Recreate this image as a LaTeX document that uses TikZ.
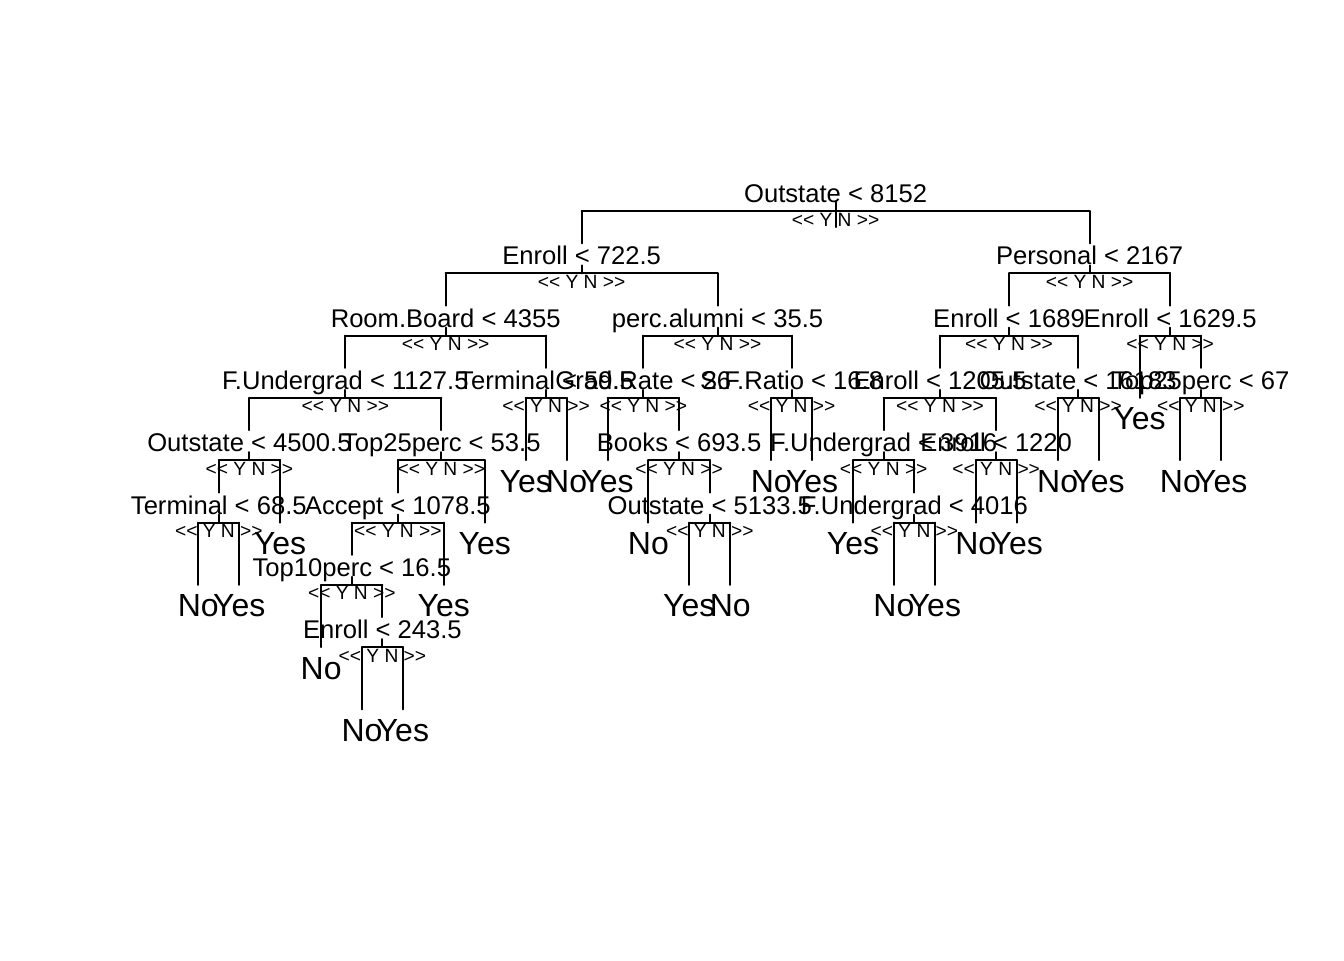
\documentclass[tikz,border=0pt]{standalone}
\usepackage{fontspec}
\setmainfont{Liberation Sans}
\usetikzlibrary{calc}
\tikzset{
  edge/.style={line width=0.75pt, line cap=round},
  splitlab/.style={anchor=base, inner sep=0pt, font=\fontsize{9.6}{11}\selectfont},
  ynlab/.style={anchor=base, inner sep=0pt, font=\fontsize{7.2}{9}\selectfont},
  leaflab/.style={anchor=base, inner sep=0pt, font=\fontsize{12}{14}\selectfont},
}
\newcommand\tSplit[3]{\draw[edge] (#2 |- #1) -- (#3 |- #1);}
\newcommand\tTick[1]{\draw[edge] ($(#1)+(0,-8)$) -- (#1);}
\newcommand\tToSplit[2]{\draw[edge] (#2 |- #1) -- ($(#2)+(0,-30)$);}
\newcommand\tToLeaf[2]{\draw[edge] (#2 |- #1) -- (#2);}
\newcommand\tSLabel[2]{\node[splitlab] (#1-t) at ($(#1)+(0,-8.5)$) {#2};
  \node[ynlab] (#1-yn) at ($(#1)+(0,15)$) {<{}< Y N >{}>};}
\newcommand\tLLabel[2]{\node[leaflab] (#1-t) at ($(#1)+(0,32)$) {#2};}
\begin{document}
\begin{tikzpicture}[x=0.375pt, y=-0.375pt]
\fill[white] (0,0) rectangle (1344,960);
\useasboundingbox (0,0) rectangle (1344,960);
% ---- tree node positions (bar / leaf points)
\coordinate (r) at (835.6,211);
\coordinate (a) at (581.6,273.3);
\coordinate (b) at (1089.6,273.3);
\coordinate (aa) at (445.7,335.6);
\coordinate (ab) at (717.5,335.6);
\coordinate (ba) at (1009.0,335.6);
\coordinate (bb) at (1170.2,335.6);
\coordinate (aaa) at (345.3,397.9);
\coordinate (aab) at (546.1,397.9);
\coordinate (aba) at (643.3,397.9);
\coordinate (abb) at (791.6,397.9);
\coordinate (baa) at (940.0,397.9);
\coordinate (bab) at (1078.1,397.9);
\coordinate (bba) at (1139.5,397.9);
\coordinate (bbb) at (1200.8,397.9);
\coordinate (aaaa) at (249.4,460.2);
\coordinate (aaab) at (441.3,460.2);
\coordinate (aaba) at (525.7,460.2);
\coordinate (aabb) at (566.6,460.2);
\coordinate (abaa) at (607.5,460.2);
\coordinate (abab) at (679.1,460.2);
\coordinate (abba) at (771.2,460.2);
\coordinate (abbb) at (812.1,460.2);
\coordinate (baaa) at (883.7,460.2);
\coordinate (baab) at (996.2,460.2);
\coordinate (baba) at (1057.6,460.2);
\coordinate (babb) at (1098.5,460.2);
\coordinate (bbba) at (1180.4,460.2);
\coordinate (bbbb) at (1221.3,460.2);
\coordinate (aaaaa) at (218.8,522.5);
\coordinate (aaaab) at (280.1,522.5);
\coordinate (aaaba) at (397.8,522.5);
\coordinate (aaabb) at (484.7,522.5);
\coordinate (ababa) at (648.4,522.5);
\coordinate (ababb) at (709.8,522.5);
\coordinate (baaaa) at (853.0,522.5);
\coordinate (baaab) at (914.4,522.5);
\coordinate (baaba) at (975.8,522.5);
\coordinate (baabb) at (1016.7,522.5);
\coordinate (aaaaaa) at (198.3,584.8);
\coordinate (aaaaab) at (239.2,584.8);
\coordinate (aaabaa) at (351.8,584.8);
\coordinate (aaabab) at (443.8,584.8);
\coordinate (ababba) at (689.3,584.8);
\coordinate (ababbb) at (730.3,584.8);
\coordinate (baaaba) at (893.9,584.8);
\coordinate (baaabb) at (934.9,584.8);
\coordinate (aaabaaa) at (321.1,647.1);
\coordinate (aaabaab) at (382.4,647.1);
\coordinate (aaabaaba) at (362.0,709.4);
\coordinate (aaabaabb) at (402.9,709.4);
% ---- branches
\draw[edge] ($(r)+(0,-10)$) -- ($(r)+(0,16)$);
\tSplit{r}{a}{b} \tToSplit{r}{a} \tToSplit{r}{b}
\tSplit{a}{aa}{ab} \tTick{a} \tToSplit{a}{aa} \tToSplit{a}{ab}
\tSplit{b}{ba}{bb} \tTick{b} \tToSplit{b}{ba} \tToSplit{b}{bb}
\tSplit{aa}{aaa}{aab} \tTick{aa} \tToSplit{aa}{aaa} \tToSplit{aa}{aab}
\tSplit{ab}{aba}{abb} \tTick{ab} \tToSplit{ab}{aba} \tToSplit{ab}{abb}
\tSplit{ba}{baa}{bab} \tTick{ba} \tToSplit{ba}{baa} \tToSplit{ba}{bab}
\tSplit{bb}{bba}{bbb} \tTick{bb} \tToLeaf{bb}{bba} \tToSplit{bb}{bbb}
\tSplit{aaa}{aaaa}{aaab} \tTick{aaa} \tToSplit{aaa}{aaaa} \tToSplit{aaa}{aaab}
\tSplit{aab}{aaba}{aabb} \tTick{aab} \tToLeaf{aab}{aaba} \tToLeaf{aab}{aabb}
\tSplit{aba}{abaa}{abab} \tTick{aba} \tToLeaf{aba}{abaa} \tToSplit{aba}{abab}
\tSplit{abb}{abba}{abbb} \tTick{abb} \tToLeaf{abb}{abba} \tToLeaf{abb}{abbb}
\tSplit{baa}{baaa}{baab} \tTick{baa} \tToSplit{baa}{baaa} \tToSplit{baa}{baab}
\tSplit{bab}{baba}{babb} \tTick{bab} \tToLeaf{bab}{baba} \tToLeaf{bab}{babb}
\tSplit{bbb}{bbba}{bbbb} \tTick{bbb} \tToLeaf{bbb}{bbba} \tToLeaf{bbb}{bbbb}
\tSplit{aaaa}{aaaaa}{aaaab} \tTick{aaaa} \tToSplit{aaaa}{aaaaa} \tToLeaf{aaaa}{aaaab}
\tSplit{aaab}{aaaba}{aaabb} \tTick{aaab} \tToSplit{aaab}{aaaba} \tToLeaf{aaab}{aaabb}
\tSplit{abab}{ababa}{ababb} \tTick{abab} \tToLeaf{abab}{ababa} \tToSplit{abab}{ababb}
\tSplit{baaa}{baaaa}{baaab} \tTick{baaa} \tToLeaf{baaa}{baaaa} \tToSplit{baaa}{baaab}
\tSplit{baab}{baaba}{baabb} \tTick{baab} \tToLeaf{baab}{baaba} \tToLeaf{baab}{baabb}
\tSplit{aaaaa}{aaaaaa}{aaaaab} \tTick{aaaaa} \tToLeaf{aaaaa}{aaaaaa} \tToLeaf{aaaaa}{aaaaab}
\tSplit{aaaba}{aaabaa}{aaabab} \tTick{aaaba} \tToSplit{aaaba}{aaabaa} \tToLeaf{aaaba}{aaabab}
\tSplit{ababb}{ababba}{ababbb} \tTick{ababb} \tToLeaf{ababb}{ababba} \tToLeaf{ababb}{ababbb}
\tSplit{baaab}{baaaba}{baaabb} \tTick{baaab} \tToLeaf{baaab}{baaaba} \tToLeaf{baaab}{baaabb}
\tSplit{aaabaa}{aaabaaa}{aaabaab} \tTick{aaabaa} \tToLeaf{aaabaa}{aaabaaa} \tToSplit{aaabaa}{aaabaab}
\tSplit{aaabaab}{aaabaaba}{aaabaabb} \tTick{aaabaab} \tToLeaf{aaabaab}{aaabaaba} \tToLeaf{aaabaab}{aaabaabb}
% ---- split labels
\tSLabel{r}{Outstate < 8152}
\tSLabel{a}{Enroll < 722.5}
\tSLabel{b}{Personal < 2167}
\tSLabel{aa}{Room.Board < 4355}
\tSLabel{ab}{perc.alumni < 35.5}
\tSLabel{ba}{Enroll < 1689}
\tSLabel{bb}{Enroll < 1629.5}
\tSLabel{aaa}{F.Undergrad < 1127.5}
\tSLabel{aab}{Terminal < 59.5}
\tSLabel{aba}{Grad.Rate < 26}
\tSLabel{abb}{S.F.Ratio < 16.8}
\tSLabel{baa}{Enroll < 1205.5}
\tSLabel{bab}{Outstate < 16183}
\tSLabel{bbb}{Top25perc < 67}
\tSLabel{aaaa}{Outstate < 4500.5}
\tSLabel{aaab}{Top25perc < 53.5}
\tSLabel{abab}{Books < 693.5}
\tSLabel{baaa}{F.Undergrad < 3916}
\tSLabel{baab}{Enroll < 1220}
\tSLabel{aaaaa}{Terminal < 68.5}
\tSLabel{aaaba}{Accept < 1078.5}
\tSLabel{ababb}{Outstate < 5133.5}
\tSLabel{baaab}{F.Undergrad < 4016}
\tSLabel{aaabaa}{Top10perc < 16.5}
\tSLabel{aaabaab}{Enroll < 243.5}
% ---- leaf labels
\tLLabel{bba}{Yes}
\tLLabel{aaba}{Yes}
\tLLabel{aabb}{No}
\tLLabel{abaa}{Yes}
\tLLabel{abba}{No}
\tLLabel{abbb}{Yes}
\tLLabel{baba}{No}
\tLLabel{babb}{Yes}
\tLLabel{bbba}{No}
\tLLabel{bbbb}{Yes}
\tLLabel{aaaab}{Yes}
\tLLabel{aaabb}{Yes}
\tLLabel{ababa}{No}
\tLLabel{baaaa}{Yes}
\tLLabel{baaba}{No}
\tLLabel{baabb}{Yes}
\tLLabel{aaaaaa}{No}
\tLLabel{aaaaab}{Yes}
\tLLabel{aaabab}{Yes}
\tLLabel{ababba}{Yes}
\tLLabel{ababbb}{No}
\tLLabel{baaaba}{No}
\tLLabel{baaabb}{Yes}
\tLLabel{aaabaaa}{No}
\tLLabel{aaabaaba}{No}
\tLLabel{aaabaabb}{Yes}
\end{tikzpicture}
\end{document}
